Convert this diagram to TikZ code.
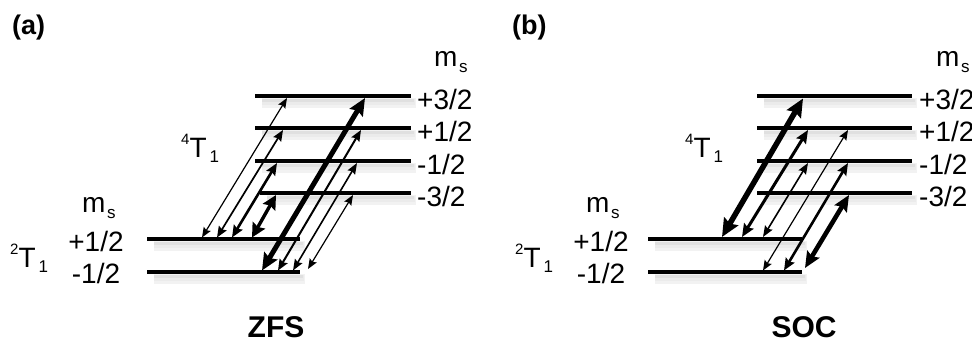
\documentclass[tikz,border=0pt]{standalone}
\usepackage{fontspec}
\setmainfont{Liberation Sans}
\usetikzlibrary{arrows.meta}
\newcommand{\lvsup}[1]{\raisebox{13pt}{\fontsize{15}{15}\selectfont #1}}
\newcommand{\lvsub}[2][-5pt]{\raisebox{#1}{\fontsize{17}{17}\selectfont #2}}
\tikzset{
  lvl/.style={line width=3.5pt},
  shdA/.style={line width=10pt, black!5},
  shdB/.style={line width=6pt, black!8},
  shdC/.style={line width=3pt, black!12},
  lbl/.style={font=\fontsize{28}{28}\selectfont, inner sep=0pt},
  ttl/.style={font=\bfseries\fontsize{30}{30}\selectfont, inner sep=0pt, anchor=base},
  pnl/.style={font=\bfseries\fontsize{27}{27}\selectfont, inner sep=0pt, anchor=base west},
  aw/.style n args={4}{line width=#1pt,
    {Stealth[length=#2pt,width=#3pt,inset=#4pt]}-{Stealth[length=#2pt,width=#3pt,inset=#4pt]}}
}
\begin{document}
\begin{tikzpicture}[x=1pt,y=-1pt]
\useasboundingbox (0,0) rectangle (972,344);
% ---------- level end points ----------
% panel (a)
\coordinate (aU1-w) at (255,96);  \coordinate (aU1-e) at (411,96);
\coordinate (aU2-w) at (255,128); \coordinate (aU2-e) at (411,128);
\coordinate (aU3-w) at (255,161); \coordinate (aU3-e) at (411,161);
\coordinate (aU4-w) at (260,193); \coordinate (aU4-e) at (411,193);
\coordinate (aL1-w) at (147,239); \coordinate (aL1-e) at (300,239);
\coordinate (aL2-w) at (147,272); \coordinate (aL2-e) at (300,272);
% panel (b)
\coordinate (bU1-w) at (757,96);  \coordinate (bU1-e) at (912,96);
\coordinate (bU2-w) at (757,128); \coordinate (bU2-e) at (912,128);
\coordinate (bU3-w) at (757,161); \coordinate (bU3-e) at (912,161);
\coordinate (bU4-w) at (757,193); \coordinate (bU4-e) at (912,193);
\coordinate (bL1-w) at (648,239); \coordinate (bL1-e) at (802,239);
\coordinate (bL2-w) at (648,272); \coordinate (bL2-e) at (802,272);
% ---------- shadows and levels ----------
\foreach \p in {a,b}{
  \foreach \l in {U1,U2,U3,U4,L1,L2}{
    \draw[shdA] ([shift={(7,7)}]\p\l-w) -- ([shift={(5,7)}]\p\l-e);
    \draw[shdB] ([shift={(7,6)}]\p\l-w) -- ([shift={(4,6)}]\p\l-e);
    \draw[shdC] ([shift={(7,5)}]\p\l-w) -- ([shift={(3,5)}]\p\l-e);
  }
}
\foreach \p in {a,b}{
  \foreach \l in {U1,U2,U3,U4,L1,L2}{
    \draw[lvl] (\p\l-w) -- (\p\l-e);
  }
}
% ---------- arrow end points ----------
% panel (a)
\coordinate (aA1l) at (202,237.5); \coordinate (aA1u) at (287,98);
\coordinate (aA2l) at (217,237.5); \coordinate (aA2u) at (283,130);
\coordinate (aA3l) at (232,237.5); \coordinate (aA3u) at (277,163);
\coordinate (aA4l) at (252,237.5); \coordinate (aA4u) at (276,195);
\coordinate (aA5l) at (262,270.5); \coordinate (aA5u) at (365,98);
\coordinate (aA6l) at (278,270.5); \coordinate (aA6u) at (361,130);
\coordinate (aA7l) at (293,270.5); \coordinate (aA7u) at (357,163);
\coordinate (aA8l) at (308,269);   \coordinate (aA8u) at (353,195);
% panel (b)
\coordinate (bA1l) at (722,237);   \coordinate (bA1u) at (803,98.5);
\coordinate (bA2l) at (742,237);   \coordinate (bA2u) at (808,130);
\coordinate (bA3l) at (763,237);   \coordinate (bA3u) at (808,163);
\coordinate (bA4l) at (763,270.5); \coordinate (bA4u) at (848,130);
\coordinate (bA5l) at (784,270.5); \coordinate (bA5u) at (848,163);
\coordinate (bA6l) at (805,268);   \coordinate (bA6u) at (849,195);
% ---------- arrows (a) ----------
\draw[aw={1.2}{10}{8}{1.5}] (aA1l) -- (aA1u);
\draw[aw={1.7}{11}{9}{1.5}] (aA2l) -- (aA2u);
\draw[aw={2.6}{12}{10}{1.8}] (aA3l) -- (aA3u);
\draw[aw={3.4}{14}{14}{2}] (aA4l) -- (aA4u);
\draw[aw={5}{17}{15}{2.5}] (aA5l) -- (aA5u);
\draw[aw={2}{11}{9}{1.5}] (aA6l) -- (aA6u);
\draw[aw={1.6}{11}{8.5}{1.5}] (aA7l) -- (aA7u);
\draw[aw={1.2}{10}{8}{1.5}] (aA8l) -- (aA8u);
% ---------- arrows (b) ----------
\draw[aw={5.5}{18}{16}{2.5}] (bA1l) -- (bA1u);
\draw[aw={3}{13}{11}{2}] (bA2l) -- (bA2u);
\draw[aw={1.6}{11}{8.5}{1.5}] (bA3l) -- (bA3u);
\draw[aw={1.2}{10}{8}{1.5}] (bA4l) -- (bA4u);
\draw[aw={2.6}{12}{10}{1.8}] (bA5l) -- (bA5u);
\draw[aw={4.6}{16}{14}{2.5}] (bA6l) -- (bA6u);
% ---------- labels (a) ----------
\node[pnl] (pa) at (12,35) {(a)};
\node[lbl, anchor=base west] (amsr) at (434,67) {m\hspace{1.5pt}\lvsub[-6pt]{s}};
\node[lbl, anchor=base west] (aq1) at (417,110) {+3/2};
\node[lbl, anchor=base west] (aq2) at (417,142) {+1/2};
\node[lbl, anchor=base west] (aq3) at (417,175) {-1/2};
\node[lbl, anchor=base west] (aq4) at (417,207) {-3/2};
\node[lbl, anchor=base west] (a4t) at (181,158) {\lvsup{4}T\hspace{3pt}\lvsub{1}};
\node[lbl, anchor=base west] (amsl) at (82,213) {m\hspace{1.5pt}\lvsub[-6pt]{s}};
\node[lbl, anchor=base] (ad1) at (96,252) {+1/2};
\node[lbl, anchor=base] (ad2) at (96,284) {-1/2};
\node[lbl, anchor=base west] (a2t) at (10,268) {\lvsup{2}T\hspace{3pt}\lvsub{1}};
\node[ttl] (zfs) at (276,338) {ZFS};
% ---------- labels (b) ----------
\node[pnl] (pb) at (512,35) {(b)};
\node[lbl, anchor=base west] (bmsr) at (936,67) {m\hspace{1.5pt}\lvsub[-6pt]{s}};
\node[lbl, anchor=base west] (bq1) at (919,110) {+3/2};
\node[lbl, anchor=base west] (bq2) at (919,142) {+1/2};
\node[lbl, anchor=base west] (bq3) at (919,175) {-1/2};
\node[lbl, anchor=base west] (bq4) at (919,207) {-3/2};
\node[lbl, anchor=base west] (b4t) at (685,158) {\lvsup{4}T\hspace{3pt}\lvsub{1}};
\node[lbl, anchor=base west] (bmsl) at (586,213) {m\hspace{1.5pt}\lvsub[-6pt]{s}};
\node[lbl, anchor=base] (bd1) at (601,252) {+1/2};
\node[lbl, anchor=base] (bd2) at (601,284) {-1/2};
\node[lbl, anchor=base west] (b2t) at (515,268) {\lvsup{2}T\hspace{3pt}\lvsub{1}};
\node[ttl] (soc) at (804,338) {SOC};
\end{tikzpicture}
\end{document}
